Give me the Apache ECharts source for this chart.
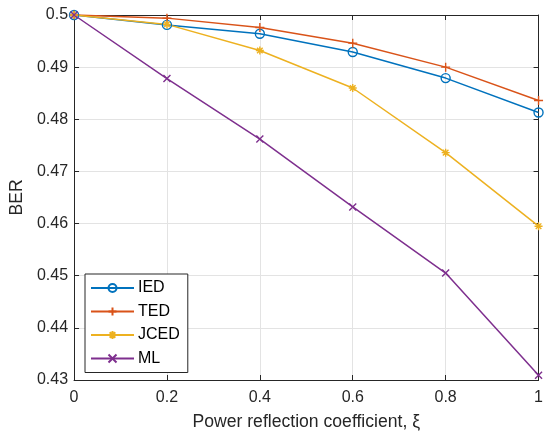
<!DOCTYPE html>
<html>
<head>
<meta charset="utf-8">
<script src="https://cdn.jsdelivr.net/npm/echarts@6/dist/echarts.min.js"></script>
<style>
  html, body { margin: 0; padding: 0; background: #fff; }
  #chart { width: 546px; height: 436px; }
</style>
</head>
<body>
<div id="chart"></div>
<script>
// Power reflection coefficient (x) and BER of each detector
const xi = [0, 0.2, 0.4, 0.6, 0.8, 1.0];
const berIED  = [0.5, 0.4981, 0.4964, 0.4929, 0.4879, 0.4813];
const berTED  = [0.5, 0.4994, 0.4976, 0.4946, 0.4900, 0.4836];
const berJCED = [0.5, 0.4982, 0.4932, 0.4860, 0.4736, 0.4595];
const berML   = [0.5, 0.4878, 0.4762, 0.4632, 0.4505, 0.4309];
const seriesNames = ['IED', 'TED', 'JCED', 'ML'];

// Tick positions
const xTicks = [0, 0.2, 0.4, 0.6, 0.8, 1];
const yTicks = [0.43, 0.44, 0.45, 0.46, 0.47, 0.48, 0.49, 0.5];

const axisColor = '#262626';
const gridColor = '#e3e3e3';
const fontFamily = '"Liberation Sans", Arial, Helvetica, sans-serif';
const colors = ['#0072BD', '#D95319', '#EDB120', '#7E2F8E'];

// Marker outlines (stroked, unfilled paths)
const circlePath = 'path://M10,5A5,5,0,1,1,0,5A5,5,0,1,1,10,5Z';
const plusPath = 'path://M5,0L5,10M0,5L10,5';
const crossPath = 'path://M0,0L10,10M10,0L0,10';
const starPath = 'path://M5,0L5,10M0,5L10,5M1.5,1.5L8.5,8.5M8.5,1.5L1.5,8.5';

const xMin = xTicks[0], xMax = xTicks[xTicks.length - 1], xStep = xTicks[1] - xTicks[0];
const yMin = yTicks[0], yMax = yTicks[yTicks.length - 1];
const yStep = 0.01;

function pairs(ys) { return xi.map((x, i) => [x, ys[i]]); }

function makeSeries(name, ys, color, symbol, size) {
  return {
    name: name,
    type: 'line',
    data: pairs(ys),
    xAxisIndex: 0,
    yAxisIndex: 0,
    color: color,
    symbol: symbol,
    symbolSize: size,
    showSymbol: true,
    lineStyle: { color: color, width: 1.5 },
    itemStyle: { color: 'rgba(255,255,255,0)', borderColor: color, borderWidth: 1.4 },
    emphasis: { disabled: true },
    animation: false,
    clip: false
  };
}

const chart = echarts.init(document.getElementById('chart'), null, { renderer: 'canvas' });

const tickStyle = { show: true, inside: true, length: 5, lineStyle: { color: axisColor, width: 1 } };

chart.setOption({
  backgroundColor: '#fff',
  animation: false,
  textStyle: { fontFamily: fontFamily, color: axisColor },
  grid: { left: 73, right: 3, top: 15, bottom: 55, containLabel: false },
  legend: {
    orient: 'vertical',
    left: 85,
    top: 274,
    data: seriesNames,
    backgroundColor: '#fff',
    borderColor: axisColor,
    borderWidth: 1,
    borderRadius: 0,
    padding: [6, 8, 6, 5],
    itemWidth: 43,
    itemHeight: 10,
    itemGap: 7.5,
    textStyle: { fontSize: 16, color: '#000', fontFamily: fontFamily, padding: [0, 0, 0, -1] }
  },
  xAxis: [
    {
      type: 'value',
      min: xMin, max: xMax, interval: xStep,
      name: 'Power reflection coefficient, ξ',
      nameLocation: 'middle',
      nameGap: 33,
      nameTextStyle: { fontSize: 17.6, color: axisColor, fontFamily: fontFamily },
      axisLine: { show: true, onZero: false, lineStyle: { color: axisColor, width: 1 } },
      axisTick: tickStyle,
      axisLabel: { fontSize: 16, color: axisColor, margin: 10, fontFamily: fontFamily },
      splitLine: { show: true, lineStyle: { color: gridColor, width: 1 } }
    },
    {
      type: 'value',
      position: 'top',
      min: xMin, max: xMax, interval: xStep,
      axisLine: { show: true, onZero: false, lineStyle: { color: axisColor, width: 1 } },
      axisTick: tickStyle,
      axisLabel: { show: false },
      splitLine: { show: false }
    }
  ],
  yAxis: [
    {
      type: 'value',
      min: yMin, max: yMax, interval: yStep,
      name: 'BER',
      nameLocation: 'middle',
      nameRotate: 90,
      nameGap: 45,
      nameTextStyle: { fontSize: 17.6, color: axisColor, fontFamily: fontFamily },
      axisLine: { show: true, onZero: false, lineStyle: { color: axisColor, width: 1 } },
      axisTick: tickStyle,
      axisLabel: { fontSize: 16, color: axisColor, margin: 6, fontFamily: fontFamily },
      splitLine: { show: true, lineStyle: { color: gridColor, width: 1 } }
    },
    {
      type: 'value',
      position: 'right',
      min: yMin, max: yMax, interval: yStep,
      axisLine: { show: true, onZero: false, lineStyle: { color: axisColor, width: 1 } },
      axisTick: tickStyle,
      axisLabel: { show: false },
      splitLine: { show: false }
    }
  ],
  series: [
    makeSeries(seriesNames[0], berIED, colors[0], circlePath, 9),
    makeSeries(seriesNames[1], berTED, colors[1], plusPath, 9),
    makeSeries(seriesNames[2], berJCED, colors[2], starPath, 8),
    makeSeries(seriesNames[3], berML, colors[3], crossPath, 7)
  ]
});
</script>
</body>
</html>
